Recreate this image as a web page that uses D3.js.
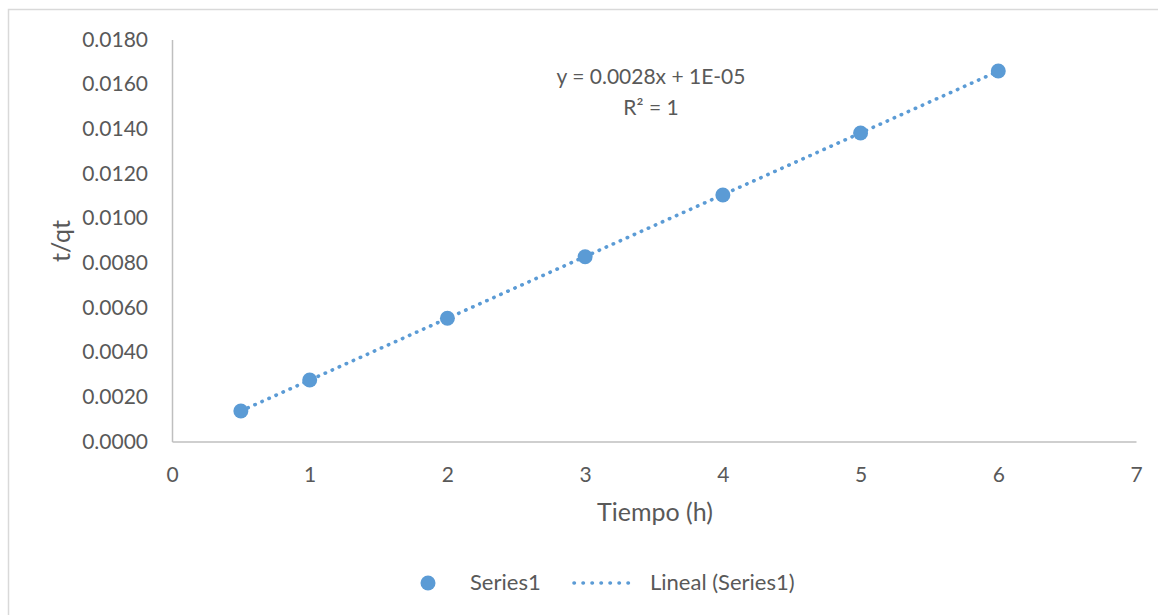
<!DOCTYPE html>
<html>
<head>
<meta charset="utf-8">
<script src="https://cdn.jsdelivr.net/npm/d3@7"></script>
<style>
  html, body { margin: 0; padding: 0; background: #fff; }
  svg { display: block; font-family: Lato, "Open Sans", sans-serif; }
</style>
</head>
<body>
<svg id="chart" width="1158" height="615"></svg>
<script>
// Time (h) and t/qt values
const tiempo = [0.5, 1, 2, 3, 4, 5, 6];
const tqt = [0.001366, 0.002754, 0.005516, 0.008275, 0.011037, 0.013814, 0.01659];
const xTicks = [0, 1, 2, 3, 4, 5, 6, 7];
const yTicks = [0, 0.002, 0.004, 0.006, 0.008, 0.010, 0.012, 0.014, 0.016, 0.018];
const equationLines = ["y = 0.0028x + 1E-05", "R² = 1"];
const legendLabels = ["Series1", "Lineal (Series1)"];

const W = 1158, H = 615;
const svg = d3.select("#chart");
const blue = "#5b9bd5", textColor = "#595959", axisColor = "#bfbfbf";

// chart frame
svg.append("rect")
  .attr("x", 8.5).attr("y", 9.5)
  .attr("width", W + 20).attr("height", H + 20)
  .attr("fill", "#fff").attr("stroke", "#d9d9d9").attr("stroke-width", 1.5);

const x = d3.scaleLinear().domain([0, 7]).range([172, 1136]);
const y = d3.scaleLinear().domain([0, 0.018]).range([441.5, 39.5]);

// axes
const xAxis = d3.axisBottom(x).tickValues(xTicks).tickSize(0).tickPadding(24)
  .tickFormat(d3.format("d"));
const yAxis = d3.axisLeft(y).tickValues(yTicks).tickSize(0).tickPadding(24)
  .tickFormat(d3.format(".4f"));

const gx = svg.append("g").attr("transform", `translate(0,${y(0)})`).call(xAxis);
const gy = svg.append("g").attr("transform", `translate(${x(0)},0)`).call(yAxis);
[gx, gy].forEach(g => {
  g.select(".domain").attr("stroke", axisColor).attr("stroke-width", 1.5);
  g.selectAll("text").attr("fill", textColor).attr("font-size", 21)
    .attr("font-family", "Lato, 'Open Sans', sans-serif");
});
gx.selectAll("text").attr("dy", "0.35em").attr("y", 33);

// axis titles
svg.append("text")
  .attr("x", 655).attr("y", 521)
  .attr("text-anchor", "middle").attr("fill", textColor).attr("font-size", 25)
  .text("Tiempo (h)");
svg.append("text")
  .attr("transform", "translate(70,241) rotate(-90)")
  .attr("text-anchor", "middle").attr("fill", textColor).attr("font-size", 25)
  .text("t/qt");

// least-squares trend line
const n = tiempo.length;
const mx = d3.mean(tiempo), my = d3.mean(tqt);
let sxy = 0, sxx = 0;
for (let i = 0; i < n; i++) {
  sxy += (tiempo[i] - mx) * (tqt[i] - my);
  sxx += (tiempo[i] - mx) ** 2;
}
const slope = sxy / sxx, intercept = my - slope * mx;
const xr = d3.extent(tiempo);
const trend = xr.map(t => [t, slope * t + intercept]);

svg.append("path")
  .datum(trend)
  .attr("d", d3.line().x(d => x(d[0])).y(d => y(d[1])))
  .attr("fill", "none").attr("stroke", blue).attr("stroke-width", 3.6)
  .attr("stroke-linecap", "round").attr("stroke-dasharray", "0.4 7.3");

// points
svg.append("g").selectAll("circle")
  .data(tiempo.map((t, i) => [t, tqt[i]]))
  .join("circle")
  .attr("cx", d => x(d[0])).attr("cy", d => y(d[1]))
  .attr("r", 7.5).attr("fill", blue);

// equation label
svg.append("g").selectAll("text")
  .data(equationLines).join("text")
  .attr("x", 651).attr("y", (d, i) => 84 + i * 31)
  .attr("text-anchor", "middle").attr("fill", textColor).attr("font-size", 21)
  .text(d => d);

// legend
const lg = svg.append("g");
lg.append("circle").attr("cx", 428).attr("cy", 583).attr("r", 7.5).attr("fill", blue);
lg.append("text").attr("x", 470).attr("y", 590).attr("fill", textColor)
  .attr("font-size", 22).text(legendLabels[0]);
lg.append("line").attr("x1", 574).attr("x2", 637).attr("y1", 583).attr("y2", 583)
  .attr("stroke", blue).attr("stroke-width", 3.6)
  .attr("stroke-linecap", "round").attr("stroke-dasharray", "0.4 8.6");
lg.append("text").attr("x", 650).attr("y", 590).attr("fill", textColor)
  .attr("font-size", 22).text(legendLabels[1]);
</script>
</body>
</html>
